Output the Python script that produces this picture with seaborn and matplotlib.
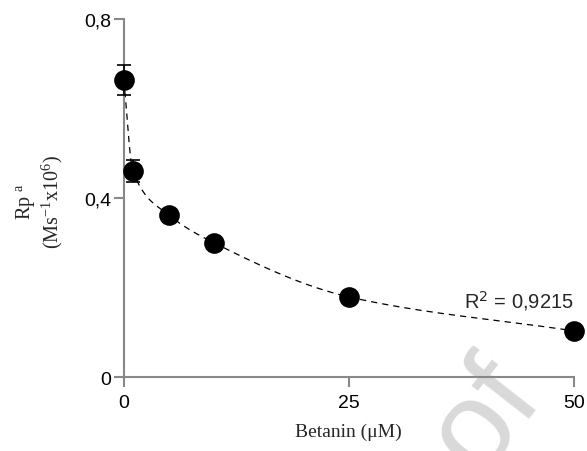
import matplotlib
matplotlib.use("Agg")
import numpy as np
import pandas as pd
import matplotlib.pyplot as plt
import seaborn as sns

# data
betanin = [0, 1, 5, 10, 25, 50]
rpa = [0.664, 0.46, 0.362, 0.300, 0.179, 0.103]
rpa_err = [0.033, 0.025, 0.0, 0.0, 0.0, 0.0]
x_ticks = [0, 25, 50]
y_ticks = [0, 0.4, 0.8]
y_tick_labels = ["0", "0,4", "0,8"]
r2_label = "R$^2$ = 0,9215"

sns.set_style("ticks")
plt.rcParams["font.family"] = ["Liberation Sans", "DejaVu Sans"]

df = pd.DataFrame({"x": betanin, "y": rpa, "err": rpa_err})


def pchip(x, y, xs):
    # monotone cubic (Fritsch-Carlson) through the measured points
    h = np.diff(x)
    d = np.diff(y) / h
    m = np.zeros_like(y)
    for i in range(1, len(x) - 1):
        if d[i - 1] * d[i] > 0:
            w1 = 2 * h[i] + h[i - 1]
            w2 = h[i] + 2 * h[i - 1]
            m[i] = (w1 + w2) / (w1 / d[i - 1] + w2 / d[i])
    # end slopes: plain secants
    m[0] = d[0]
    m[-1] = d[-1]
    idx = np.clip(np.searchsorted(x, xs) - 1, 0, len(x) - 2)
    t = (xs - x[idx]) / h[idx]
    h00 = 2 * t**3 - 3 * t**2 + 1
    h10 = t**3 - 2 * t**2 + t
    h01 = -2 * t**3 + 3 * t**2
    h11 = t**3 - t**2
    return (h00 * y[idx] + h10 * h[idx] * m[idx]
            + h01 * y[idx + 1] + h11 * h[idx] * m[idx + 1])


xs = np.linspace(0, 50, 500)
fit = pd.DataFrame({"x": xs, "y": pchip(df["x"].values.astype(float),
                                       df["y"].values, xs)})

fig = plt.figure(figsize=(5.87, 4.52), dpi=100)
ax = fig.add_axes([0.211, 0.1637, 0.767, 0.792])

# faint watermark remnant
fig.text(0.828, 0.078, "of", fontsize=90, color="#d9d9d9", rotation=52,
         ha="center", va="center", zorder=-1)

sns.lineplot(data=fit, x="x", y="y", ax=ax, color="black", lw=0.9,
             dashes=False, linestyle=(0, (5, 4)))
errs = df[df["err"] > 0]
ax.errorbar(errs["x"], errs["y"], yerr=errs["err"], fmt="none", ecolor="black",
            elinewidth=1.2, capsize=5, capthick=1.2, clip_on=False, zorder=3)
sns.scatterplot(data=df, x="x", y="y", ax=ax, color="black", s=190,
                edgecolor="black", clip_on=False, zorder=4)

ax.set_xlim(0, 50)
ax.set_ylim(0, 0.8)
ax.set_xticks(x_ticks)
ax.set_xticklabels([str(t) for t in x_ticks])
ax.set_yticks(y_ticks)
ax.set_yticklabels(y_tick_labels)
ax.tick_params(colors="#888888", labelcolor="black", labelsize=14, width=1.5,
               length=7, pad=2)
ax.tick_params(axis="x", pad=5)
for side in ["left", "bottom"]:
    ax.spines[side].set_color("#888888")
    ax.spines[side].set_linewidth(1.5)
sns.despine(ax=ax)
ax.set_xlabel("")
ax.set_ylabel("")
ax.patch.set_alpha(0)

serif = ["Liberation Serif", "DejaVu Serif"]
fig.text(0.593, 0.033, "Betanin (μM)", family=serif, fontsize=14, ha="center")
fig.text(0.045, 0.555, "Rp $^{\\mathregular{a}}$", family=serif, fontsize=14.5,
         rotation=90, ha="center", va="center")
fig.text(0.089, 0.553, "(Ms$^{\\mathregular{-1}}$x10$^{\\mathregular{6}}$)", family=serif,
         fontsize=14.5, rotation=90, ha="center", va="center")
ax.text(1.0, 0.215, r2_label, transform=ax.transAxes, fontsize=14.5,
        ha="right", va="center")

fig.savefig("out.png", dpi=100)
